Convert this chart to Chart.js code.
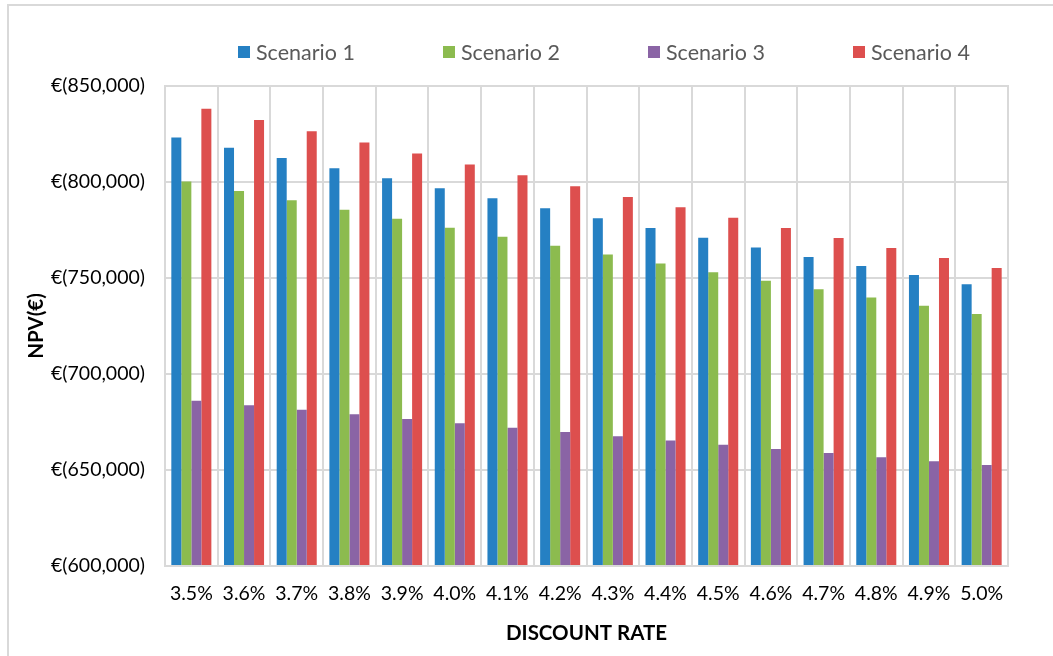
<!DOCTYPE html>
<html>
<head>
<meta charset="utf-8">
<script src="https://cdn.jsdelivr.net/npm/chart.js@4.4.1/dist/chart.umd.min.js"></script>
<style>
    html, body { margin: 0; padding: 0; background: #ffffff; overflow: hidden; }
    #wrap { position: relative; width: 1053px; height: 656px; }
    #frame {
        position: absolute; left: 7px; top: 4px; width: 1100px; height: 700px;
        border: 2px solid #d9d9d9; box-sizing: border-box;
    }
    #legend {
        position: absolute; left: 238px; top: 39px; display: flex;
        font-family: Lato, 'Open Sans', sans-serif; font-size: 21.5px; color: #595959;
    }
    .item { width: 205px; display: flex; align-items: center; }
    .box { width: 12px; height: 12px; margin-right: 6px; }
</style>
</head>
<body>
<div id="wrap">
    <div id="frame"></div>
    <canvas id="npvChart" width="1053" height="656"></canvas>
    <div id="legend"></div>
</div>
<script>
// Discount rates on the x axis
const rates = ['3.5%', '3.6%', '3.7%', '3.8%', '3.9%', '4.0%', '4.1%', '4.2%',
               '4.3%', '4.4%', '4.5%', '4.6%', '4.7%', '4.8%', '4.9%', '5.0%'];

// NPV per scenario (EUR)
const scenario1 = [823200, 817800, 812500, 807200, 801900, 796700, 791500, 786300,
                   781100, 776000, 770900, 765900, 760900, 756300, 751500, 746800];
const scenario2 = [800300, 795300, 790500, 785600, 780900, 776200, 771500, 766800,
                   762200, 757600, 753000, 748600, 744200, 739800, 735500, 731300];
const scenario3 = [686100, 683700, 681400, 679000, 676600, 674300, 672000, 669800,
                   667600, 665300, 663100, 660900, 658800, 656700, 654600, 652600];
const scenario4 = [838200, 832300, 826400, 820600, 814800, 809100, 803500, 797800,
                   792200, 786800, 781400, 776100, 770800, 765600, 760400, 755200];

const seriesNames = ['Scenario 1', 'Scenario 2', 'Scenario 3', 'Scenario 4'];
const seriesColors = ['#2580c3', '#8cbb4f', '#8a64a5', '#dd4f4e'];

// Y axis ticks
const yTicks = [600000, 650000, 700000, 750000, 800000, 850000];

const fontFamily = "Lato, 'Open Sans', sans-serif";

function formatEuro(v) {
    return '€(' + v.toLocaleString('en-US') + ')';
}

document.addEventListener('DOMContentLoaded', function() {
    const allSeries = [scenario1, scenario2, scenario3, scenario4];

    const datasets = allSeries.map(function(values, i) {
        return {
            label: seriesNames[i],
            data: values,
            backgroundColor: seriesColors[i],
            borderWidth: 0,
            categoryPercentage: 0.76,
            barPercentage: 1.0
        };
    });

    new Chart(document.getElementById('npvChart'), {
        type: 'bar',
        data: { labels: rates, datasets: datasets },
        options: {
            responsive: false,
            animation: false,
            layout: { padding: { top: 86, left: 12, right: 45, bottom: 0 } },
            plugins: { legend: { display: false }, tooltip: { enabled: false } },
            scales: {
                x: {
                    grid: { color: '#d9d9d9', lineWidth: 2, offset: true, drawTicks: false },
                    border: { color: '#d9d9d9', width: 2 },
                    ticks: {
                        color: '#000000', padding: 16,
                        font: { family: fontFamily, size: 19.5 }
                    },
                    title: {
                        display: true, text: 'DISCOUNT RATE', color: '#000000',
                        font: { family: fontFamily, size: 20.5, weight: 'bold' },
                        padding: { top: 4, bottom: 10 }
                    },
                    afterFit: function(scale) { scale.height = 90; }
                },
                y: {
                    min: yTicks[0],
                    max: yTicks[yTicks.length - 1],
                    afterBuildTicks: function(scale) {
                        scale.ticks = yTicks.map(function(v) { return { value: v }; });
                    },
                    grid: { color: '#d9d9d9', lineWidth: 2, drawTicks: false },
                    border: { color: '#d9d9d9', width: 2 },
                    ticks: {
                        color: '#000000', padding: 20,
                        font: { family: fontFamily, size: 19.5 },
                        callback: function(v) { return formatEuro(v); }
                    },
                    title: {
                        display: true, text: 'NPV(€)', color: '#000000',
                        font: { family: fontFamily, size: 20.5, weight: 'bold' },
                        padding: { top: 12, bottom: 12 }
                    },
                    afterFit: function(scale) { scale.width = 153; }
                }
            }
        },
        plugins: [{
            id: 'plotFrame',
            afterDraw: function(chart) {
                const a = chart.chartArea;
                const ctx = chart.ctx;
                ctx.save();
                ctx.strokeStyle = '#d9d9d9';
                ctx.lineWidth = 2;
                ctx.strokeRect(a.left, a.top, a.right - a.left, a.bottom - a.top);
                ctx.restore();
            }
        }]
    });

    // Legend as HTML
    const legend = document.getElementById('legend');
    seriesNames.forEach(function(name, i) {
        const item = document.createElement('div');
        item.className = 'item';
        const box = document.createElement('span');
        box.className = 'box';
        box.style.background = seriesColors[i];
        const label = document.createElement('span');
        label.textContent = name;
        item.appendChild(box);
        item.appendChild(label);
        legend.appendChild(item);
    });
});
</script>
</body>
</html>
